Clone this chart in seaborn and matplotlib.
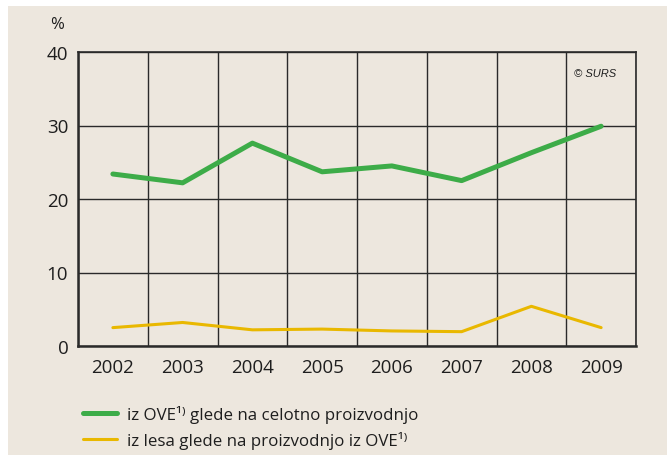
#!/usr/bin/env python3

import matplotlib
matplotlib.use('Agg')
import matplotlib.pyplot as plt     # visual plotting of data
import seaborn as sns               # visual plotting of data
import pandas as pd     # handling data
import numpy as np
from matplotlib.patches import Rectangle

years = ['2002', '2003', '2004', '2005', '2006', '2007', '2008', '2009']
ove_share = [23.4, 22.2, 27.6, 23.7, 24.5, 22.5, 26.3, 29.9]
wood_share = [2.5, 3.2, 2.2, 2.3, 2.05, 1.95, 5.4, 2.5]
labels = ['iz OVE\u00b9\u207e glede na celotno proizvodnjo',
          'iz lesa glede na proizvodnjo iz OVE\u00b9\u207e']
colors = ['#3dac48', '#e9b800']

BG = '#ede7de'

sns.set_style('white')
plt.rcParams['font.family'] = ['Open Sans', 'DejaVu Sans']

df = pd.DataFrame({'Leto': years * 2,
                   'Delez': ove_share + wood_share,
                   'Serija': [labels[0]] * len(years) + [labels[1]] * len(years)})

fig = plt.figure(figsize=(6.67, 4.56), dpi=100)
fig.patch.set_facecolor('white')
fig.patches.append(Rectangle((8 / 667, 0), 1 - 8 / 667, 1 - 7 / 456,
                             transform=fig.transFigure, facecolor=BG,
                             edgecolor='none', zorder=-10))

ax = fig.add_axes([78 / 667, 1 - 347 / 456, (636 - 78) / 667, (347 - 53) / 456])
ax.set_facecolor(BG)

sns.lineplot(data=df, x='Leto', y='Delez', hue='Serija', palette=colors,
             ax=ax, legend=False, sort=False)
ax.lines[0].set_linewidth(3.6)
ax.lines[1].set_linewidth(2.2)
for ln in ax.lines:
    ln.set_solid_capstyle('round')
    ln.set_zorder(5)

ax.set_xlim(-0.5, 7.5)
ax.set_ylim(0, 40)
ax.set_yticks([0, 10, 20, 30, 40])
ax.set_xticks(np.arange(-0.5, 8, 1), minor=True)
ax.grid(False)
ax.grid(axis='y', which='major', color='#2a2a2a', linewidth=1.0)
ax.grid(axis='x', which='minor', color='#2a2a2a', linewidth=1.0)
ax.tick_params(axis='both', which='both', length=0, labelsize=13.5,
               labelcolor='#1e1e1e')
ax.tick_params(axis='x', pad=9)
ax.tick_params(axis='y', pad=7)
ax.set_xlabel('')
ax.set_ylabel('')
for side in ['left', 'bottom']:
    ax.spines[side].set_linewidth(1.8)
    ax.spines[side].set_color('#2a2a2a')
for side in ['top', 'right']:
    ax.spines[side].set_linewidth(1.2)
    ax.spines[side].set_color('#2a2a2a')

fig.text(57 / 667, 1 - 25 / 456, '%', fontsize=12, color='#1e1e1e',
         ha='center', va='center')
ax.text(0.965, 0.93, '\u00a9 SURS', transform=ax.transAxes, fontsize=8,
        style='italic', family=['Liberation Sans', 'DejaVu Sans'],
        ha='right', va='center', color='#1e1e1e')

handles = [plt.Line2D([], [], color=colors[0], linewidth=3.6, solid_capstyle='round'),
           plt.Line2D([], [], color=colors[1], linewidth=2.2, solid_capstyle='round')]
fig.legend(handles, labels, loc='upper left', bbox_to_anchor=(68 / 667, 1 - 391 / 456),
           frameon=False, fontsize=12.2, handlelength=2.0, handletextpad=0.6,
           labelspacing=0.45, labelcolor='#1e1e1e')

plt.savefig('out.png', dpi=100, facecolor=fig.get_facecolor())
